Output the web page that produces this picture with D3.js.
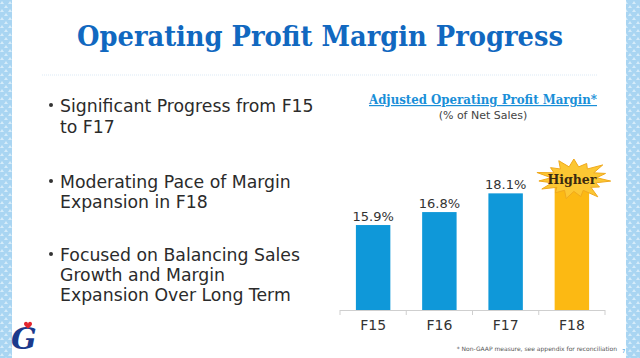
<!DOCTYPE html>
<html><head><meta charset="utf-8">
<script src="https://cdn.jsdelivr.net/npm/d3@7"></script>
<style>body{margin:0;background:#fff}svg{display:block}</style>
</head><body>
<svg id="c" width="640" height="358"></svg>
<script>
const categories = ["F15","F16","F17","F18"];
const values = [15.9, 16.8, 18.1, 19.3];
const valueLabels = ["15.9%","16.8%","18.1%",""];
const barColors = ["#0f98d9","#0f98d9","#0f98d9","#fcb913"];
const bullets = [
  ["Significant Progress from F15","to F17"],
  ["Moderating Pace of Margin","Expansion in F18"],
  ["Focused on Balancing Sales","Growth and Margin","Expansion Over Long Term"]
];
const yDomain = [10, 20];

const svg = d3.select("#c");
const defs = svg.append("defs");
const pat = defs.append("pattern").attr("id","tri").attr("width",8).attr("height",8)
  .attr("patternUnits","userSpaceOnUse");
pat.append("rect").attr("width",8).attr("height",8).attr("fill","#a9d5f2");
pat.append("path").attr("d","M2,1 L4,4 L0,4 Z").attr("fill","#d6ecfa");
pat.append("path").attr("d","M6,5 L8,8 L4,8 Z").attr("fill","#d6ecfa");
svg.append("rect").attr("x",0).attr("y",0).attr("width",12).attr("height",358).attr("fill","url(#tri)");
svg.append("rect").attr("x",626).attr("y",0).attr("width",14).attr("height",358).attr("fill","url(#tri)");

// title
svg.append("text").attr("x",320).attr("y",46).attr("text-anchor","middle")
  .attr("font-family","DejaVu Serif Condensed, DejaVu Serif").attr("font-weight","bold").attr("font-size",28)
  .attr("fill","#1168c0").attr("textLength",486).attr("lengthAdjust","spacingAndGlyphs")
  .text("Operating Profit Margin Progress");
svg.append("line").attr("x1",42).attr("x2",598).attr("y1",75).attr("y2",75)
  .attr("stroke","#dbe9f5").attr("stroke-width",1).attr("stroke-dasharray","1,1");

// bullets
const lineYs = [[106,127],[182,202],[255,275,295]];
bullets.forEach((b,i)=>{
  svg.append("circle").attr("cx",51).attr("cy",lineYs[i][0]-1).attr("r",2).attr("fill","#333");
  b.forEach((t,j)=>{
    svg.append("text").attr("x",60).attr("y",lineYs[i][j]+6).attr("font-family","DejaVu Sans")
      .attr("font-size",17.3).attr("fill","#2b2b2b").text(t);
  });
});

// chart
const x = d3.scaleBand().domain(categories).range([340,605]).paddingInner(0.48).paddingOuter(0.24);
const y = d3.scaleLinear().domain(yDomain).range([310,166]);

svg.append("text").attr("x",483).attr("y",104).attr("text-anchor","middle")
  .attr("font-family","DejaVu Serif").attr("font-weight","bold").attr("font-size",12)
  .attr("fill","#1a8fd8").attr("text-decoration","underline")
  .attr("textLength",228).attr("lengthAdjust","spacingAndGlyphs")
  .text("Adjusted Operating Profit Margin*");
svg.append("text").attr("x",483).attr("y",119).attr("text-anchor","middle")
  .attr("font-family","DejaVu Sans").attr("font-size",11).attr("fill","#444").text("(% of Net Sales)");

svg.selectAll("rect.bar").data(categories).join("rect").attr("class","bar")
  .attr("x",d=>x(d)).attr("width",x.bandwidth())
  .attr("y",(d,i)=>y(values[i])).attr("height",(d,i)=>y(yDomain[0])-y(values[i]))
  .attr("fill",(d,i)=>barColors[i]);

svg.selectAll("text.vl").data(categories).join("text").attr("class","vl")
  .attr("x",d=>x(d)+x.bandwidth()/2).attr("y",(d,i)=>y(values[i])-4)
  .attr("text-anchor","middle").attr("font-family","DejaVu Sans").attr("font-size",13)
  .attr("fill","#333").text((d,i)=>valueLabels[i]);

const axis = d3.axisBottom(x).tickSize(0).tickPadding(0);
const ag = svg.append("g").attr("transform","translate(0,310)").call(axis);
ag.select(".domain").attr("d","M340,0.5H605").attr("stroke","#cfcfcf");
ag.selectAll(".tick text").attr("y",10).attr("font-family","DejaVu Sans").attr("font-size",14).attr("fill","#333");
d3.range(5).forEach(i=>{
  const bx = 340 + i*(265/4);
  ag.append("line").attr("x1",bx).attr("x2",bx).attr("y1",0).attr("y2",5).attr("stroke","#cfcfcf");
});

// starburst
const cx = x("F18")+x.bandwidth()/2+2, cy = 179;
const n = 15, pts = [];
const outerJitter = [1,0.85,1.05,0.9,1,0.8,1.1,0.9,1,0.85,1,0.95,1.05,0.85,1];
for(let k=0;k<n*2;k++){
  const a = k*Math.PI/n - Math.PI/2;
  const o = k%2===0 ? outerJitter[k/2] : 0.62;
  pts.push([cx+Math.cos(a)*37*o, cy+Math.sin(a)*20*o]);
}
svg.append("path").attr("d",d3.line().curve(d3.curveLinearClosed)(pts))
  .attr("fill","#fcc733").attr("stroke","#f0a91c").attr("stroke-width",1);
svg.append("text").attr("x",cx-2).attr("y",cy+5).attr("text-anchor","middle")
  .attr("font-family","DejaVu Serif").attr("font-weight","bold").attr("font-size",12.5)
  .attr("fill","#3a2a10").text("Higher");

// footnote
svg.append("text").attr("x",617).attr("y",351).attr("text-anchor","end")
  .attr("font-family","DejaVu Sans").attr("font-size",6).attr("fill","#555")
  .text("* Non-GAAP measure, see appendix for reconciliation");
svg.append("text").attr("x",622).attr("y",353).attr("font-family","DejaVu Sans").attr("font-size",5)
  .attr("fill","#1a8fd8").text("7");

// logo
const lg = svg.append("g");
lg.append("text").attr("x",11).attr("y",349).attr("font-family","DejaVu Serif").attr("font-style","italic")
  .attr("font-weight","bold").attr("font-size",30).attr("fill","#1b3a8c").text("G");
lg.append("path").attr("d","M28,324 C28,321 24,321 24,324 C24,326 28,328 28,329 C28,328 32,326 32,324 C32,321 28,321 28,324Z")
  .attr("fill","#e3262e");
</script>
</body></html>
